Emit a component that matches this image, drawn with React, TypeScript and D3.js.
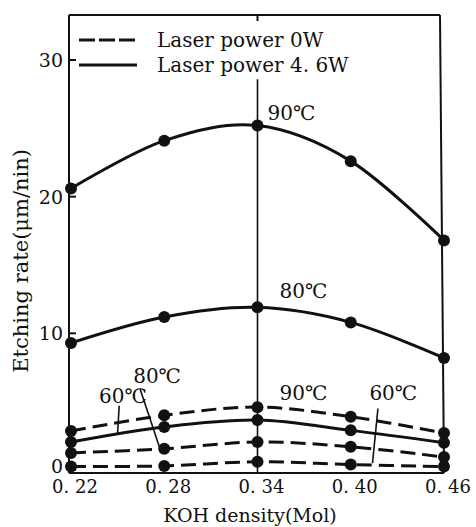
import * as d3 from "d3";

const koh = [0.22, 0.28, 0.34, 0.4, 0.46];
const xLabels = ["0. 22", "0. 28", "0. 34", "0. 40", "0. 46"];
const yTicks = [0, 10, 20, 30];
const rate90Laser = [20.6, 24.1, 25.2, 22.6, 16.8];
const rate80Laser = [9.3, 11.2, 11.9, 10.8, 8.2];
const rate60Laser = [2.05, 3.15, 3.65, 2.9, 2.0];
const rate90Dark = [2.85, 4.0, 4.6, 3.9, 2.7];
const rate80Dark = [1.25, 1.55, 2.05, 1.7, 0.95];
const rate60Dark = [0.25, 0.3, 0.6, 0.4, 0.25];
const legendLabels = ["Laser power 0W", "Laser power 4. 6W"];

const series = [
  { values: rate90Laser, dashed: false },
  { values: rate80Laser, dashed: false },
  { values: rate60Laser, dashed: false },
  { values: rate90Dark, dashed: true },
  { values: rate80Dark, dashed: true },
  { values: rate60Dark, dashed: true },
];

const W = 476;
const H = 527;
const font = "'DejaVu Serif', 'Liberation Serif', serif";

export default function App() {
  const x = d3.scaleLinear().domain([0.22, 0.46]).range([71, 444]);
  const y = d3.scaleLinear().domain([0, 30]).range([470, 60]);

  const left = 69;
  const top = 15;
  const bottom = 473;
  const right = x(0.46);

  const line = d3
    .line<number>()
    .x((_, i) => x(koh[i]))
    .y((d) => y(d))
    .curve(d3.curveCardinal.tension(0));

  const ink = "#111";

  return (
    <svg
      width={W}
      height={H}
      style={{ position: "absolute", left: 0, top: 0, background: "#fff" }}
      fontFamily={font}
    >
      {/* frame */}
      <g stroke={ink} strokeWidth={2} fill="none">
        <line x1={left} y1={top} x2={left} y2={bottom} />
        <line x1={left} y1={bottom} x2={right} y2={bottom} />
        <line x1={left} y1={top} x2={right - 4} y2={top} />
        <line x1={right - 4} y1={top} x2={right} y2={bottom} />
      </g>
      {/* vertical guide at 0.34 */}
      <line x1={x(0.34)} y1={top} x2={x(0.34)} y2={top + 6} stroke={ink} strokeWidth={2} />
      <line x1={x(0.34)} y1={y(28.6)} x2={x(0.34)} y2={bottom} stroke={ink} strokeWidth={1.6} />

      {/* y ticks */}
      {yTicks.map((t) => (
        <g key={t}>
          <line x1={left} x2={left + 7} y1={y(t)} y2={y(t)} stroke={ink} strokeWidth={2} />
          <text x={left - 6} y={t === 0 ? y(t) + 3 : y(t) + 7} textAnchor="end" fontSize={19} fill={ink}>
            {t}
          </text>
        </g>
      ))}

      {/* x tick labels */}
      {koh.map((k, i) => (
        <text key={k} x={x(k) + 4} y={493} textAnchor="middle" fontSize={18} fill={ink}>
          {xLabels[i]}
        </text>
      ))}

      <text x={250} y={522} textAnchor="middle" fontSize={19} fill={ink}>
        KOH density(Mol)
      </text>
      <text
        transform={`translate(28, ${y(15.3)}) rotate(-90)`}
        textAnchor="middle"
        fontSize={21}
        fill={ink}
      >
        Etching rate(μm/nin)
      </text>

      {/* series */}
      {series.map((s, si) => (
        <g key={si}>
          <path
            d={line(s.values) || ""}
            fill="none"
            stroke={ink}
            strokeWidth={3}
            strokeDasharray={s.dashed ? "15,7" : undefined}
          />
          {s.values.map((v, i) => (
            <circle key={i} cx={x(koh[i])} cy={y(v)} r={6} fill={ink} />
          ))}
        </g>
      ))}

      {/* legend */}
      {legendLabels.map((lab, i) => (
        <g key={lab}>
          <line
            x1={79}
            x2={137}
            y1={40 + i * 25}
            y2={40 + i * 25}
            stroke={ink}
            strokeWidth={3}
            strokeDasharray={i === 0 ? "16,4" : undefined}
          />
          <text x={157} y={47 + i * 25} fontSize={20} fill={ink}>
            {lab}
          </text>
        </g>
      ))}

      {/* annotations */}
      <g fontSize={20} fill={ink}>
        <text x={x(0.34) + 10} y={y(25.2) - 6}>90℃</text>
        <text x={x(0.34) + 22} y={y(11.9) - 9}>80℃</text>
        <text x={x(0.26)} y={y(6.4)}>80℃</text>
        <text x={x(0.238)} y={y(4.9)}>60℃</text>
        <text x={x(0.34) + 22} y={y(5.1)}>90℃</text>
        <text x={x(0.412)} y={y(5.1)}>60℃</text>
      </g>
      <g stroke={ink} strokeWidth={1.6}>
        <line x1={x(0.251)} y1={y(4.7)} x2={x(0.25)} y2={y(2.7)} />
        <line x1={x(0.2645)} y1={y(5.9)} x2={x(0.28) - 4} y2={y(1.5)} />
        <line x1={x(0.4175)} y1={y(4.5)} x2={x(0.414)} y2={y(0.5)} />
      </g>
    </svg>
  );
}
